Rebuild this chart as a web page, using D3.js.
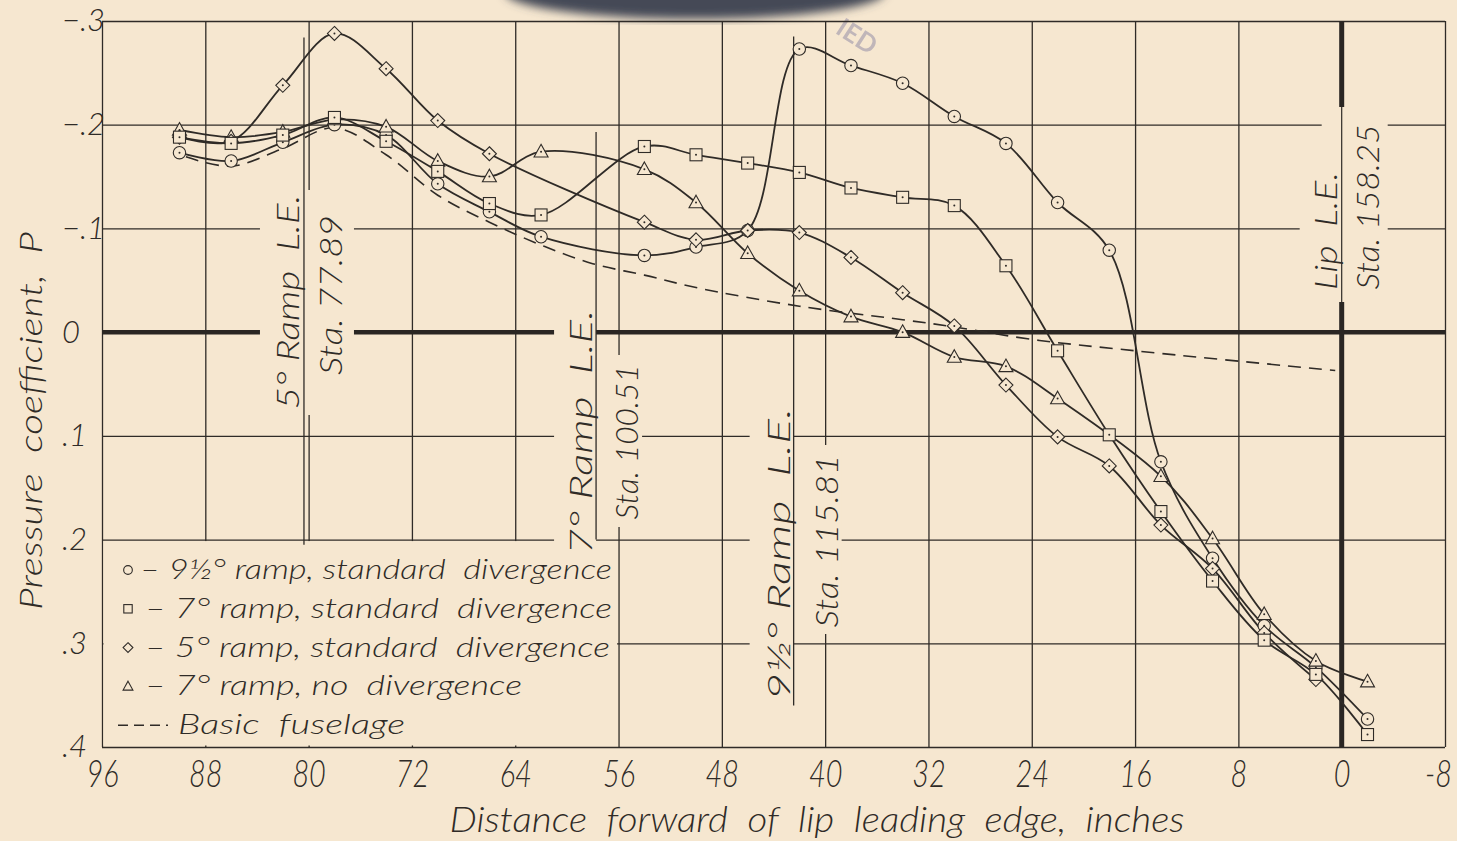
<!DOCTYPE html>
<html>
<head>
<meta charset="utf-8">
<script src="https://cdn.jsdelivr.net/npm/d3@7"></script>
<style>
  body { margin: 0; background: #f6e7d0; }
  svg { display: block; }
  text { fill: #2f2b27; font-family: "Lato", "DejaVu Sans", sans-serif; font-style: italic; font-weight: 300; white-space: pre; }
</style>
</head>
<body>
<svg id="chart" width="1457" height="841"></svg>
<script>
// Values.  x = distance forward of lip L.E. (in), P = pressure coefficient
var circleX = [90, 86, 82, 78, 74, 70, 66, 62, 54, 50, 46, 42, 38, 34, 30, 26, 22, 18, 14, 10, 6, 2, -2];
var circleP = [-0.173, -0.165, -0.183, -0.200, -0.190, -0.143, -0.116, -0.092, -0.074, -0.082, -0.098, -0.273, -0.257, -0.240, -0.208, -0.182, -0.125, -0.079, 0.125, 0.218, 0.283, 0.323, 0.373];

var squareX = [90, 86, 82, 78, 74, 70, 66, 62, 54, 50, 46, 42, 38, 34, 30, 26, 22, 18, 14, 10, 6, 2, -2];
var squareP = [-0.188, -0.182, -0.190, -0.207, -0.184, -0.155, -0.124, -0.113, -0.179, -0.171, -0.163, -0.154, -0.139, -0.130, -0.122, -0.064, 0.018, 0.099, 0.173, 0.240, 0.297, 0.330, 0.388];

var diamondX = [90, 86, 82, 78, 74, 70, 66, 54, 50, 46, 42, 38, 34, 30, 26, 22, 18, 14, 10, 6, 2];
var diamondP = [-0.188, -0.184, -0.238, -0.288, -0.254, -0.204, -0.172, -0.106, -0.089, -0.098, -0.096, -0.072, -0.038, -0.006, 0.051, 0.101, 0.129, 0.186, 0.228, 0.290, 0.335];

var triangleX = [90, 86, 82, 78, 74, 70, 66, 62, 54, 50, 46, 42, 38, 34, 30, 26, 22, 14, 10, 6, 2, -2];
var triangleP = [-0.195, -0.188, -0.193, -0.205, -0.198, -0.165, -0.150, -0.174, -0.157, -0.125, -0.076, -0.040, -0.015, 0.000, 0.024, 0.033, 0.064, 0.139, 0.199, 0.272, 0.317, 0.337];

var fuselageX = [89.5, 86, 82, 78, 74, 70, 66, 62, 58, 54, 50, 42, 34, 30, 24, 16, 0.5];
var fuselageP = [-0.169, -0.160, -0.177, -0.197, -0.171, -0.132, -0.106, -0.084, -0.066, -0.055, -0.043, -0.025, -0.012, -0.005, 0.007, 0.018, 0.037];

var xTicks = [96, 88, 80, 72, 64, 56, 48, 40, 32, 24, 16, 8, 0, -8];
var xTickLabels = ["96", "88", "80", "72", "64", "56", "48", "40", "32", "24", "16", "8", "0", "-8"];
var yTicks = [-0.3, -0.2, -0.1, 0, 0.1, 0.2, 0.3, 0.4];
var yTickLabels = ["\u2212.3", "\u2212.2", "\u2212.1", "0", ".1", ".2", ".3", ".4"];

// ramp leading edge stations, lip L.E. is at sta. 158.25
var lipStation = 158.25;
var rampStations = [77.89, 100.51, 115.81];
var rampLabels = ["5\u00b0 Ramp  L.E.", "7\u00b0 Ramp  L.E.", "9\u00bd\u00b0 Ramp  L.E."];
var staLabels = ["Sta. 77.89", "Sta. 100.51", "Sta. 115.81"];

var legendLabels = [
    "\u2013 9\u00bd\u00b0 ramp, standard  divergence",
    "\u2013 7\u00b0 ramp, standard  divergence",
    "\u2013 5\u00b0 ramp, standard  divergence",
    "\u2013 7\u00b0 ramp, no  divergence",
    "Basic  fuselage"
];

function renderChart() {
    var left = 102, right = 1445, top = 21, bottom = 747;
    var ink = "#2f2b27", paper = "#f6e7d0";

    var x = d3.scaleLinear().domain([96, -8]).range([left, right]);
    var y = d3.scaleLinear().domain([-0.3, 0.4]).range([top, bottom]);

    var svg = d3.select("#chart");
    svg.append("rect").attr("width", 1457).attr("height", 841).attr("fill", paper);

    // smudge of the old stamp at the top
    var defs = svg.append("defs");
    defs.append("filter").attr("id", "blur").append("feGaussianBlur").attr("stdDeviation", 5);
    svg.append("ellipse")
        .attr("cx", 695).attr("cy", -8).attr("rx", 190).attr("ry", 27)
        .attr("fill", "#454a56").attr("filter", "url(#blur)");
    svg.append("text")
        .attr("transform", "translate(852,44) rotate(33)")
        .attr("text-anchor", "middle")
        .style("font-size", "26px").style("font-weight", "700").style("font-style", "normal")
        .style("fill", "#aaa2b0").style("opacity", 0.7)
        .text("IED");

    // grid
    var gx = svg.append("g")
        .attr("transform", "translate(0," + bottom + ")")
        .call(d3.axisBottom(x).tickValues(xTicks).tickSize(-(bottom - top)).tickFormat(""));
    var gy = svg.append("g")
        .attr("transform", "translate(" + left + ",0)")
        .call(d3.axisLeft(y).tickValues(yTicks).tickSize(-(right - left)).tickFormat(""));
    [gx, gy].forEach(function(g) {
        g.select(".domain").remove();
        g.selectAll("line").attr("stroke", ink).attr("stroke-width", 1.3);
    });

    // heavy zero line
    svg.append("line")
        .attr("x1", left).attr("x2", right)
        .attr("y1", y(0)).attr("y2", y(0))
        .attr("stroke", "#2a2623").attr("stroke-width", 4.5);

    // blank out grid behind the annotations and legend
    var blanks = svg.append("g").attr("fill", paper);
    var textBoxes = [
        [77.89, -44, 50, 190, 415],
        [100.51, -42, 0, 300, 563], [100.51, 0, 46, 355, 527],
        [115.81, -44, 0, 398, 704], [115.81, 0, 48, 445, 634],
        [158.25, -42, 0, 160, 302], [158.25, -20, 46, 104, 302]
    ];
    textBoxes.forEach(function(b) {
        var lx = x(lipStation - b[0]);
        blanks.append("rect")
            .attr("x", lx + b[1]).attr("y", b[3])
            .attr("width", b[2] - b[1]).attr("height", b[4] - b[3]);
    });
    blanks.append("rect")
        .attr("x", left + 1.5).attr("y", y(0.2) + 1.5)
        .attr("width", x(56) - left - 3).attr("height", bottom - y(0.2) - 3);

    // lip leading edge line, thin where the label sits
    var lipX = x(0);
    svg.append("line").attr("x1", lipX).attr("x2", lipX).attr("y1", top).attr("y2", 107)
        .attr("stroke", "#2a2623").attr("stroke-width", 5);
    svg.append("line").attr("x1", lipX).attr("x2", lipX).attr("y1", 107).attr("y2", 302)
        .attr("stroke", ink).attr("stroke-width", 1.2);
    svg.append("line").attr("x1", lipX).attr("x2", lipX).attr("y1", 302).attr("y2", bottom)
        .attr("stroke", "#2a2623").attr("stroke-width", 5);

    // ramp L.E. lines
    var rampSpan = [[-0.284, 0.205], [-0.193, 0.200], [-0.285, 0.360]];
    rampStations.forEach(function(s, i) {
        var lx = x(lipStation - s);
        svg.append("line")
            .attr("x1", lx).attr("x2", lx)
            .attr("y1", y(rampSpan[i][0])).attr("y2", y(rampSpan[i][1]))
            .attr("stroke", ink).attr("stroke-width", 1.3);
    });

    // annotation text (rotated)
    var annot = svg.append("g").style("font-size", "31px");
    var rampText = [[-5, 302, 215, 38, 295, 160], [-4, 432, 245, 42, 442, 155], [-4, 554, 292, 44, 541, 173]];
    rampStations.forEach(function(s, i) {
        var lx = x(lipStation - s), t = rampText[i];
        annot.append("text")
            .attr("transform", "translate(" + (lx + t[0]) + "," + t[1] + ") rotate(-90)")
            .attr("text-anchor", "middle")
            .attr("textLength", t[2]).attr("lengthAdjust", "spacingAndGlyphs")
            .text(rampLabels[i]);
        annot.append("text")
            .attr("transform", "translate(" + (lx + t[3]) + "," + t[4] + ") rotate(-90)")
            .attr("text-anchor", "middle")
            .attr("textLength", t[5]).attr("lengthAdjust", "spacingAndGlyphs")
            .text(staLabels[i]);
    });
    annot.append("text")
        .attr("transform", "translate(" + (lipX - 5) + ",231) rotate(-90)")
        .attr("text-anchor", "middle")
        .attr("textLength", 118).attr("lengthAdjust", "spacingAndGlyphs")
        .text("Lip  L.E.");
    annot.append("text")
        .attr("transform", "translate(" + (lipX + 37) + ",207) rotate(-90)")
        .attr("text-anchor", "middle")
        .attr("textLength", 165).attr("lengthAdjust", "spacingAndGlyphs")
        .text("Sta. " + lipStation.toFixed(2));

    // curves
    var line = d3.line()
        .x(function(d) { return x(d[0]); })
        .y(function(d) { return y(d[1]); })
        .curve(d3.curveCatmullRom.alpha(0.5));

    var series = [
        { xs: circleX, ps: circleP, shape: "circle" },
        { xs: triangleX, ps: triangleP, shape: "triangle" },
        { xs: diamondX, ps: diamondP, shape: "diamond" },
        { xs: squareX, ps: squareP, shape: "square" }
    ];

    svg.append("path")
        .attr("d", line(d3.zip(fuselageX, fuselageP)))
        .attr("fill", "none").attr("stroke", ink)
        .attr("stroke-width", 1.6).attr("stroke-dasharray", "13,8");

    series.forEach(function(s) {
        svg.append("path")
            .attr("d", line(d3.zip(s.xs, s.ps)))
            .attr("fill", "none").attr("stroke", ink).attr("stroke-width", 1.8);
    });

    series.forEach(function(s) {
        var g = svg.append("g");
        d3.zip(s.xs, s.ps).forEach(function(d) {
            drawMarker(g, s.shape, x(d[0]), y(d[1]), 1, ink, paper);
        });
    });

    // tick labels (condensed lettering)
    var xl = svg.append("g")
        .attr("transform", "translate(0," + bottom + ")")
        .call(d3.axisBottom(x).tickValues(xTicks).tickSize(0).tickPadding(14)
            .tickFormat(function(d, i) { return xTickLabels[i]; }));
    xl.select(".domain").remove();
    xl.selectAll("text").attr("fill", ink)
        .style("font-size", "37px").style("font-family", null)
        .attr("transform", function(d) { return (d === -8 ? "translate(-7,0) " : "") + "scale(0.78,1)"; });

    var yl = svg.append("g")
        .attr("transform", "translate(" + left + ",0)")
        .call(d3.axisLeft(y).tickValues(yTicks).tickSize(0).tickPadding(0)
            .tickFormat(function(d, i) { return yTickLabels[i]; }));
    yl.select(".domain").remove();
    yl.selectAll("text").attr("text-anchor", "start").attr("x", -40).attr("fill", ink)
        .style("font-size", "31px").style("font-family", null);

    // axis titles
    svg.append("text")
        .attr("x", 817).attr("y", 832)
        .attr("text-anchor", "middle")
        .attr("textLength", 735).attr("lengthAdjust", "spacingAndGlyphs")
        .style("font-size", "36px")
        .text("Distance  forward  of  lip  leading  edge,  inches");
    svg.append("text")
        .attr("transform", "translate(42,421) rotate(-90)")
        .attr("text-anchor", "middle")
        .attr("textLength", 378).attr("lengthAdjust", "spacingAndGlyphs")
        .style("font-size", "31px")
        .text("Pressure  coefficient,  P");

    // legend
    var legend = svg.append("g").style("font-size", "27px");
    var legendShapes = ["circle", "square", "diamond", "triangle", "dash"];
    var legendEnds = [612, 612, 610, 522, 405];
    legendLabels.forEach(function(label, i) {
        var cy = 570 + i * 38.8;
        var tx = legendShapes[i] === "dash" ? 178 : (i === 0 ? 140 : 145);
        if (legendShapes[i] === "dash") {
            legend.append("line")
                .attr("x1", 118).attr("x2", 168).attr("y1", cy).attr("y2", cy)
                .attr("stroke", ink).attr("stroke-width", 1.5).attr("stroke-dasharray", "10,6");
        } else {
            drawMarker(legend, legendShapes[i], 128, cy, 0.7, ink, paper);
        }
        legend.append("text")
            .attr("x", tx).attr("y", cy + 9)
            .attr("textLength", legendEnds[i] - tx).attr("lengthAdjust", "spacingAndGlyphs")
            .text(label);
    });
}

function drawMarker(g, shape, cx, cy, k, ink, paper) {
    var m;
    if (shape === "circle") {
        m = g.append("circle").attr("cx", cx).attr("cy", cy).attr("r", 6.2 * k);
    } else if (shape === "square") {
        m = g.append("rect").attr("x", cx - 6 * k).attr("y", cy - 6 * k)
            .attr("width", 12 * k).attr("height", 12 * k);
    } else if (shape === "diamond") {
        var r = 7 * k;
        m = g.append("path").attr("d", "M" + cx + "," + (cy - r) + "L" + (cx + r) + "," + cy +
            "L" + cx + "," + (cy + r) + "L" + (cx - r) + "," + cy + "Z");
    } else {
        var h = 7 * k;
        m = g.append("path").attr("d", "M" + cx + "," + (cy - h * 1.05) + "L" + (cx + h) + "," + (cy + h * 0.75) +
            "L" + (cx - h) + "," + (cy + h * 0.75) + "Z");
    }
    m.attr("fill", paper).attr("stroke", ink).attr("stroke-width", 1.1);
    if (k === 1) {
        g.append("circle").attr("cx", cx).attr("cy", cy).attr("r", 1).attr("fill", ink);
    }
}

renderChart();
</script>
</body>
</html>
